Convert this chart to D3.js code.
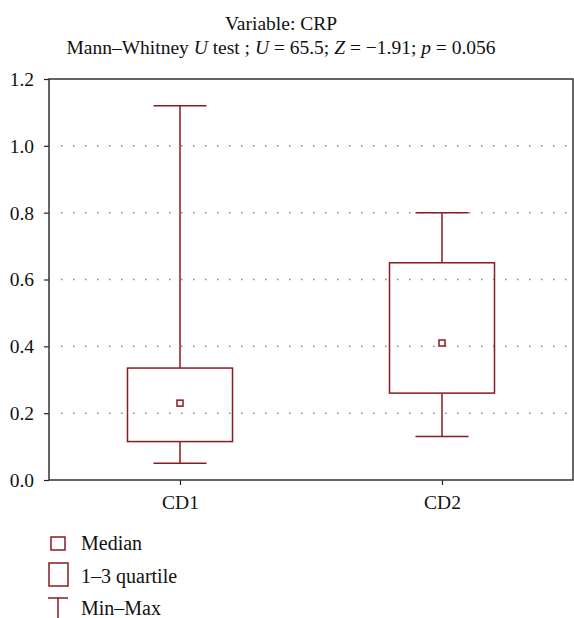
<!DOCTYPE html>
<html>
<head>
<meta charset="utf-8">
<script src="https://cdn.jsdelivr.net/npm/d3@7"></script>
<style>
  html, body { margin: 0; padding: 0; background: #fff; }
  svg text { font-family: "Liberation Serif", "DejaVu Serif", serif; fill: #111; }
</style>
</head>
<body>
<div id="chart"></div>
<script>
"use strict";

/* ── Data ── */
const groups   = ["CD1", "CD2"];
const minVals  = [0.05, 0.13];
const q1Vals   = [0.115, 0.26];
const medVals  = [0.23, 0.41];
const q3Vals   = [0.335, 0.65];
const maxVals  = [1.12, 0.80];
const yTicks   = [0, 0.2, 0.4, 0.6, 0.8, 1.0, 1.2];
const legendLabels = ["Median", "1\u20133 quartile", "Min\u2013Max"];

const RED = "#8b1a22";
const SERIF = "'Liberation Serif', 'DejaVu Serif', serif";

const W = 574, H = 618;
const margin = { top: 79, right: 1, bottom: 138, left: 49 };
const width  = W - margin.left - margin.right;
const height = H - margin.top - margin.bottom;

const svg = d3.select("#chart").append("svg")
  .attr("width", W).attr("height", H)
  .style("font-family", SERIF);

const g = svg.append("g")
  .attr("transform", `translate(${margin.left},${margin.top})`);

/* ── Scales ── */
const x = d3.scalePoint().domain(groups).range([0, width]).padding(0.5);
const y = d3.scaleLinear().domain([0, 1.2]).range([height, 0]);

/* ── Gridlines (dotted) ── */
g.append("g")
  .selectAll("line")
  .data(yTicks.filter(t => t > 0 && t < 1.2))
  .join("line")
  .attr("x1", 12).attr("x2", width)
  .attr("y1", d => y(d)).attr("y2", d => y(d))
  .attr("stroke", "#888")
  .attr("stroke-width", 1.5)
  .attr("stroke-dasharray", "1.5,10.5");

/* ── Axes ── */
g.append("g")
  .call(d3.axisLeft(y).tickValues(yTicks).tickFormat(d3.format(".1f")).tickSize(5).tickPadding(10))
  .call(a => {
    a.attr("font-family", null);
    a.select(".domain").remove();
    a.selectAll(".tick line").attr("stroke", "#222").attr("stroke-width", 1.2);
    a.selectAll(".tick text").style("font-family", SERIF).attr("font-size", "19.5px").attr("dy", "0.33em");
  });

g.append("g")
  .attr("transform", `translate(0,${height})`)
  .call(d3.axisBottom(x).tickSize(5).tickPadding(10))
  .call(a => {
    a.attr("font-family", null);
    a.select(".domain").remove();
    a.selectAll(".tick line").attr("stroke", "#222").attr("stroke-width", 1.2);
    a.selectAll(".tick text").style("font-family", SERIF).attr("font-size", "19.5px");
  });

/* ── Frame ── */
g.append("rect")
  .attr("x", 0).attr("y", 0).attr("width", width).attr("height", height)
  .attr("fill", "none").attr("stroke", "#333").attr("stroke-width", 1.5);

/* ── Boxes ── */
const boxW = 105, capW = 53, medS = 6;
const boxes = g.append("g").selectAll("g")
  .data(groups.map((k, i) => ({ k, min: minVals[i], q1: q1Vals[i], med: medVals[i], q3: q3Vals[i], max: maxVals[i] })))
  .join("g")
  .attr("transform", d => `translate(${x(d.k)},0)`);

boxes.append("line")
  .attr("x1", 0).attr("x2", 0)
  .attr("y1", d => y(d.max)).attr("y2", d => y(d.q3))
  .attr("stroke", RED).attr("stroke-width", 1.5);
boxes.append("line")
  .attr("x1", 0).attr("x2", 0)
  .attr("y1", d => y(d.q1)).attr("y2", d => y(d.min))
  .attr("stroke", RED).attr("stroke-width", 1.5);
boxes.append("line")
  .attr("x1", -capW / 2).attr("x2", capW / 2)
  .attr("y1", d => y(d.max)).attr("y2", d => y(d.max))
  .attr("stroke", RED).attr("stroke-width", 1.5);
boxes.append("line")
  .attr("x1", -capW / 2).attr("x2", capW / 2)
  .attr("y1", d => y(d.min)).attr("y2", d => y(d.min))
  .attr("stroke", RED).attr("stroke-width", 1.5);
boxes.append("rect")
  .attr("x", -boxW / 2).attr("width", boxW)
  .attr("y", d => y(d.q3)).attr("height", d => y(d.q1) - y(d.q3))
  .attr("fill", "none").attr("stroke", RED).attr("stroke-width", 1.5);
boxes.append("rect")
  .attr("x", -medS / 2).attr("width", medS)
  .attr("y", d => y(d.med) - medS / 2).attr("height", medS)
  .attr("fill", "#fff").attr("stroke", RED).attr("stroke-width", 1.5);

/* ── Title ── */
const title = svg.append("text")
  .attr("x", 281).attr("text-anchor", "middle").attr("font-size", "19.5px");
title.append("tspan").attr("x", 281).attr("y", 30).text("Variable: CRP");
const t2 = title.append("tspan").attr("x", 281).attr("y", 54);
t2.append("tspan").text("Mann\u2013Whitney ");
t2.append("tspan").attr("font-style", "italic").text("U");
t2.append("tspan").text(" test ; ");
t2.append("tspan").attr("font-style", "italic").text("U");
t2.append("tspan").text(" = 65.5; ");
t2.append("tspan").attr("font-style", "italic").text("Z");
t2.append("tspan").text(" = \u22121.91; ");
t2.append("tspan").attr("font-style", "italic").text("p");
t2.append("tspan").text(" = 0.056");

/* ── Legend ── */
const leg = svg.append("g");
leg.append("rect").attr("x", 51).attr("y", 537).attr("width", 14).attr("height", 13)
  .attr("fill", "none").attr("stroke", RED).attr("stroke-width", 1.5);
leg.append("rect").attr("x", 49).attr("y", 563).attr("width", 19).attr("height", 23)
  .attr("fill", "none").attr("stroke", RED).attr("stroke-width", 1.5);
leg.append("line").attr("x1", 48).attr("x2", 68).attr("y1", 598).attr("y2", 598)
  .attr("stroke", RED).attr("stroke-width", 1.5);
leg.append("line").attr("x1", 58).attr("x2", 58).attr("y1", 598).attr("y2", 618)
  .attr("stroke", RED).attr("stroke-width", 1.5);
leg.selectAll("text.lab")
  .data(legendLabels)
  .join("text")
  .attr("class", "lab")
  .attr("x", 81)
  .attr("y", (d, i) => [550, 583, 615][i])
  .attr("font-size", "20px")
  .text(d => d);
</script>
</body>
</html>
